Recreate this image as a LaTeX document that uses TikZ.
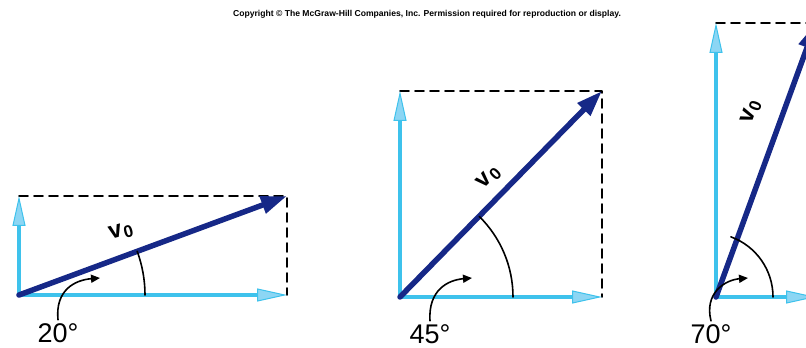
\documentclass[tikz,border=0pt]{standalone}
\usepackage{fontspec}
\setmainfont{Liberation Sans}
\usepackage{tikz}
\usetikzlibrary{arrows.meta}
\usepackage{xcolor}
\definecolor{compcol}{RGB}{62,194,236}
\definecolor{comppale}{RGB}{140,214,244}
\definecolor{veccol}{RGB}{22,40,135}
\tikzset{
  comp/.style={compcol,line width=3.8pt,-{Triangle[length=30pt,width=13pt,line width=1pt,fill=comppale]}},
  vec/.style={veccol,line width=5.5pt,-{Triangle[length=26pt,width=17pt]}},
  box/.style={black,line width=1.8pt,dash pattern=on 9pt off 6pt},
  angarc/.style={black,line width=1.6pt},
  turn/.style={black,line width=1.6pt,-{Triangle[length=9pt,width=8pt]}},
  vlabel/.style={font=\fontsize{24}{24}\selectfont\bfseries},
  alabel/.style={font=\fontsize{27}{27}\selectfont}
}
\newcommand{\vnought}{v\kern1pt\raisebox{-3pt}{\fontsize{17}{17}\selectfont 0}}

\begin{document}
\begin{tikzpicture}[line cap=round,line join=round,x=1pt,y=1pt]
\useasboundingbox (0,0) rectangle (806,348);
\clip (0,0) rectangle (806,348);

\node (copy) at (427,334) {\fontsize{8.6}{9}\selectfont\bfseries Copyright \textcopyright\ The McGraw-Hill Companies, Inc. Permission required for reproduction or display.};

% 20 degrees
\coordinate (o1) at (19,53);
\coordinate (p1) at (287,152);
\coordinate (y1) at (19,152);
\coordinate (x1) at (287,53);
\draw [box] (y1) -- (p1) -- (x1);
\draw [comp] (o1) -- (x1);
\draw [comp] (o1) -- (y1);
\draw [vec] (o1) -- (p1);
\draw [angarc] ([xshift=126pt]o1) arc (0:20.3:126);
\node [vlabel,rotate=15] (v1) at (121,116) {\vnought};
\node [alabel] (a1) at (58,15) {20°};
\draw [turn] (a1.north) .. controls (55,58) and (75,68) .. (100,70);

% 45 degrees
\coordinate (o2) at (400,51);
\coordinate (p2) at (602,257);
\coordinate (y2) at (400,257);
\coordinate (x2) at (602,51);
\draw [box] (y2) -- (p2) -- (x2);
\draw [comp] (o2) -- (x2);
\draw [comp] (o2) -- (y2);
\draw [vec] (o2) -- (p2);
\draw [angarc] ([xshift=113pt]o2) arc (0:45.5:113);
\node [vlabel,rotate=45] (v2) at (489,170) {\vnought};
\node [alabel] (a2) at (430,14) {45°};
\draw [turn] (a2.north) .. controls (428,58) and (448,68) .. (472,70);

% 70 degrees
\coordinate (o3) at (716,51);
\coordinate (p3) at (816,325);
\coordinate (y3) at (716,325);
\coordinate (x3) at (816,51);
\draw [box] (y3) -- (p3) -- (x3);
\draw [comp] (o3) -- (x3);
\draw [comp] (o3) -- (y3);
\draw [vec] (o3) -- (p3);
\draw [angarc] ([xshift=57pt]o3) arc (0:70:64);
\node [vlabel,rotate=70] (v3) at (751,236) {\vnought};
\node [alabel] (a3) at (711,14) {70°};
\draw [turn] (a3.north) .. controls (704,55) and (725,68) .. (748,70);
\end{tikzpicture}
\end{document}
